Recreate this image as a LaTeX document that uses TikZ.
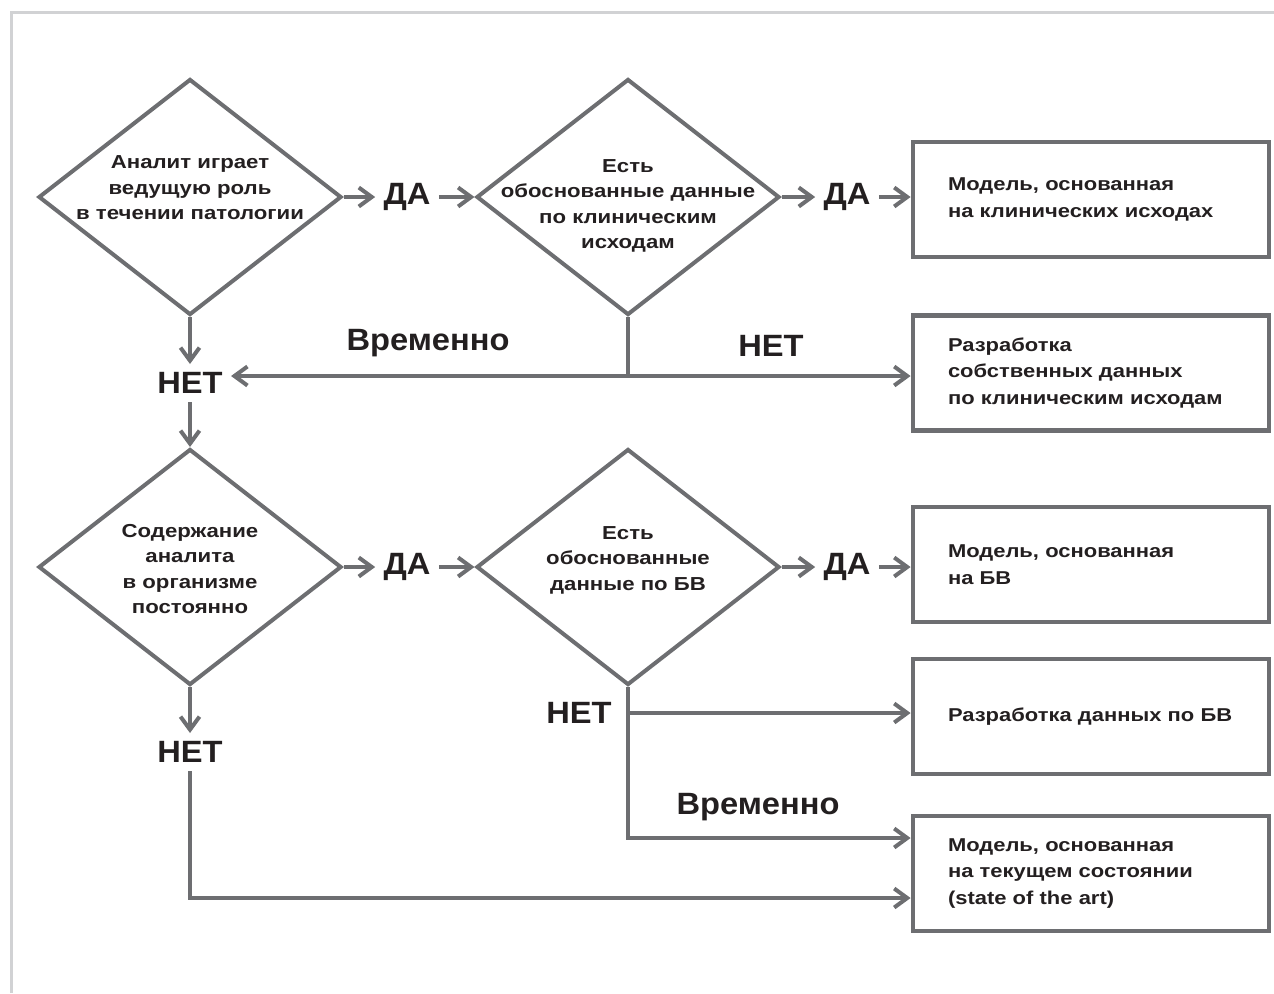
\documentclass[tikz,border=0pt]{standalone}
\usepackage{fontspec}
\setmainfont{Liberation Sans}
\newfontfamily\widefont[FakeStretch=1.18]{Liberation Sans}
\newfontfamily\labelfont[FakeStretch=1.06]{Liberation Sans}
\usepackage{tikz}
\usetikzlibrary{shapes.geometric, arrows.meta, positioning, calc}
\definecolor{mygray}{RGB}{109,110,113}
\definecolor{mydark}{RGB}{35,31,32}
\definecolor{myframe}{RGB}{209,210,212}
\tikzset{
  decision/.style={diamond, draw=mygray, line width=2pt,
    minimum width=151.5pt, minimum height=118pt, inner sep=0pt},
  dtext/.style={align=center, inner sep=0pt, text=mydark,
    font=\widefont\bfseries\fontsize{9.4}{12.75}\selectfont},
  outcome/.style={rectangle, draw=mygray, line width=2.4pt,
    minimum width=178pt, minimum height=57.5pt, text width=143pt,
    inner xsep=17.5pt, align=left, text=mydark,
    font=\widefont\bfseries\fontsize{9.3}{13.3}\selectfont},
  answer/.style={inner sep=4pt, text=mydark,
    font=\labelfont\bfseries\fontsize{15.4}{18}\selectfont},
  arrow/.style={-{Straight Barb[length=6.5pt, width=9.5pt]}, line width=2pt, color=mygray},
  line/.style={line width=2pt, color=mygray}
}

\begin{document}
\begin{tikzpicture}[x=0.5pt, y=-0.5pt]
  \useasboundingbox (0,0) rectangle (1274,993);
  % ── Frame (top and left edges only) ──────────────────────────────────────
  \draw[myframe, line width=1.5pt] (11,993) -- (11,12) -- (1274,12);

  % ── Upper branch: clinical outcomes ──────────────────────────────────────
  \node[decision] (d1) at (190,197) {};
  \node[dtext] (d1t) at (190,188) {Аналит играет\\ведущую роль\\в течении патологии};
  \node[answer] (da1) at (407,197) {ДА};
  \node[decision] (d2) at (628,197) {};
  \node[dtext] (d2t) at (628,206) {Есть\\обоснованные данные\\по клиническим\\исходам};
  \node[answer] (da2) at (847,197) {ДА};
  \node[outcome] (b1) at (1091,199.5) {Модель, основанная\\на клинических исходах};
  \node[answer] (net1) at (190,383) {НЕТ};
  \coordinate (j1) at (628,376);
  \node[answer] (tmp1) at (428,343) {Временно};
  \node[answer] (no1) at (771,346) {НЕТ};
  \node[outcome] (b2) at (1091,373) {Разработка\\собственных данных\\по клиническим исходам};

  \draw[arrow] (d1.east) -- (da1.west);
  \draw[arrow] (da1.east) -- (d2.west);
  \draw[arrow] (d2.east) -- (da2.west);
  \draw[arrow] (da2.east) -- (da2.east -| b1.west);
  \draw[arrow] (d1.south) -- (net1.north);
  \draw[line] (d2.south) -- (j1);
  \draw[arrow] (j1) -- (j1 -| net1.east);
  \draw[arrow] (j1) -- (j1 -| b2.west);

  % ── Lower branch: biological variation ───────────────────────────────────
  \node[decision] (d3) at (190,567) {};
  \node[dtext] (d3t) at (190,569) {Содержание\\аналита\\в организме\\постоянно};
  \node[answer] (da3) at (407,567) {ДА};
  \node[decision] (d4) at (628,567) {};
  \node[dtext] (d4t) at (628,560) {Есть\\обоснованные\\данные по БВ};
  \node[answer] (da4) at (847,567) {ДА};
  \node[outcome] (b3) at (1091,564.5) {Модель, основанная\\на БВ};
  \node[answer] (no2) at (579,713) {НЕТ};
  \coordinate (j2) at (628,713);
  \coordinate (j3) at (628,838);
  \node[outcome] (b4) at (1091,716.5) {Разработка данных по БВ};
  \node[answer] (tmp2) at (758,807) {Временно};
  \node[outcome] (b5) at (1091,873.5) {Модель, основанная\\на текущем состоянии\\(state of the art)};
  \node[answer] (net3) at (190,752) {НЕТ};
  \coordinate (c1) at (190,898);

  \draw[arrow] (net1.south) -- (d3.north);
  \draw[arrow] (d3.east) -- (da3.west);
  \draw[arrow] (da3.east) -- (d4.west);
  \draw[arrow] (d4.east) -- (da4.west);
  \draw[arrow] (da4.east) -- (da4.east -| b3.west);
  \draw[arrow] (j2) -- (j2 -| b4.west);
  \draw[arrow] (d4.south) -- (j3) -- (j3 -| b5.west);
  \draw[arrow] (d3.south) -- (net3.north);
  \draw[arrow] (net3.south) -- (c1) -- (c1 -| b5.west);
\end{tikzpicture}
\end{document}
